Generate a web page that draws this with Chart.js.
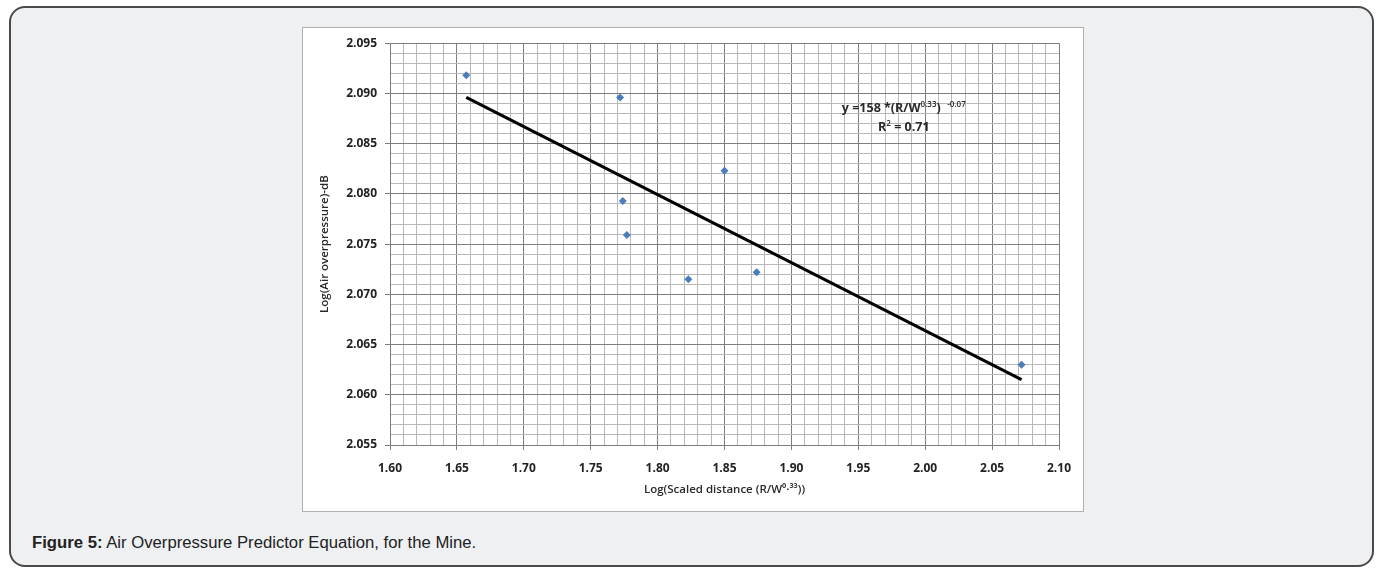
<!DOCTYPE html>
<html>
<head>
<meta charset="utf-8">
<script src="https://cdn.jsdelivr.net/npm/chart.js@4.4.0/dist/chart.umd.min.js"></script>
<style>
  body { margin: 0; background: #fff; width: 1380px; height: 569px; overflow: hidden; font-family: "Liberation Sans", Arial, sans-serif; }
  .card { position: absolute; left: 9px; top: 6px; width: 1361px; height: 557px; border: 2px solid #4a4a4a; border-radius: 16px; background: #eff0f2; }
  .chartbox { position: absolute; left: 302px; top: 27px; width: 780px; height: 483px; border: 1px solid #b0b0b0; background: #fff; }
  .caption { position: absolute; left: 32px; top: 533px; font-size: 16.7px; line-height: 19px; color: #222; }
</style>
</head>
<body>
<div class="card"></div>
<div class="chartbox"><canvas id="airChart"></canvas></div>
<div class="caption"><b>Figure 5:</b> Air Overpressure Predictor Equation, for the Mine.</div>
<script>
// measured points (log scaled distance vs log air overpressure)
var distLog = [1.657, 1.772, 1.774, 1.777, 1.823, 1.850, 1.874, 2.072];
var pressLog = [2.0918, 2.0896, 2.0793, 2.0759, 2.0715, 2.0823, 2.0722, 2.0630];

// fitted line ends as drawn in the figure
var trendX = [1.657, 2.072];
var trendY = [2.0896, 2.0615];

var xTickLabels = ["1.60", "1.65", "1.70", "1.75", "1.80", "1.85", "1.90", "1.95", "2.00", "2.05", "2.10"];
var yTickLabels = ["2.055", "2.060", "2.065", "2.070", "2.075", "2.080", "2.085", "2.090", "2.095"];

var tickFont = { family: "'Open Sans', sans-serif", size: 12, weight: "700" };
var majorGrid = "#7e7e7e";
var minorGrid = "#b8b8b8";

function isMajorX(v) { return xTickLabels.indexOf(v.toFixed(2)) >= 0; }
function isMajorY(v) { return yTickLabels.indexOf(v.toFixed(3)) >= 0; }

// equation text placed in data coordinates
var eqPlugin = {
    id: "equation",
    afterDatasetsDraw: function (chart) {
        var ctx = chart.ctx;
        var cx = chart.scales.x.getPixelForValue(1.984);
        var cy = chart.scales.y.getPixelForValue(2.0885);
        var lines = [
            [["y =158 *(R/W", 0], ["0.33", 1], [")  ", 0], ["-0.07", 1]],
            [["R", 0], ["2", 1], [" = 0.71", 0]]
        ];
        ctx.save();
        ctx.fillStyle = "#2a2a2a";
        ctx.textBaseline = "middle";
        ctx.textAlign = "left";
        lines.forEach(function (parts, i) {
            var w = 0;
            parts.forEach(function (p) {
                ctx.font = p[1] ? "600 8px 'Open Sans'" : "700 12.5px 'Open Sans'";
                w += ctx.measureText(p[0]).width;
            });
            var px = cx - w / 2;
            var py = cy + i * 19;
            parts.forEach(function (p) {
                ctx.font = p[1] ? "600 8px 'Open Sans'" : "700 12.5px 'Open Sans'";
                ctx.fillText(p[0], px, p[1] ? py - 4 : py);
                px += ctx.measureText(p[0]).width;
            });
        });
        ctx.restore();
    }
};

document.addEventListener("DOMContentLoaded", function () {
    var points = distLog.map(function (d, i) { return { x: d, y: pressLog[i] }; });
    var trend = trendX.map(function (d, i) { return { x: d, y: trendY[i] }; });

    new Chart(document.getElementById("airChart").getContext("2d"), {
        type: "scatter",
        data: {
            datasets: [{
                label: "Measured",
                data: points,
                pointStyle: "rectRot",
                pointRadius: 4,
                backgroundColor: "#4a7ebb",
                borderColor: "#4a7ebb",
                borderWidth: 0
            }, {
                label: "Fit",
                data: trend,
                showLine: true,
                borderColor: "#000",
                borderWidth: 3,
                pointRadius: 0
            }]
        },
        options: {
            responsive: true,
            maintainAspectRatio: false,
            animation: false,
            layout: { padding: { top: 15, right: 24, left: 0, bottom: 0 } },
            plugins: { legend: { display: false }, tooltip: { enabled: false } },
            scales: {
                x: {
                    type: "linear",
                    min: 1.6,
                    max: 2.1,
                    afterFit: function (scale) { scale.height = 66; },
                    ticks: {
                        stepSize: 0.01,
                        autoSkip: false,
                        maxTicksLimit: 100,
                        maxRotation: 0,
                        padding: 11,
                        color: "#222",
                        font: tickFont,
                        callback: function (v) { return isMajorX(v) ? v.toFixed(2) : ""; }
                    },
                    grid: {
                        color: function (c) { return c.tick && isMajorX(c.tick.value) ? majorGrid : minorGrid; },
                        tickColor: function (c) { return c.tick && isMajorX(c.tick.value) ? majorGrid : "rgba(0,0,0,0)"; },
                        tickLength: 5
                    },
                    border: { color: majorGrid },
                    title: {
                        display: true,
                        text: "Log(Scaled distance (R/W\u2070\u00b7\u00b3\u00b3))",
                        color: "#2a2a2a",
                        font: { family: "'Open Sans', sans-serif", size: 11.5, weight: "600" },
                        padding: { top: 0, bottom: 14 }
                    }
                },
                y: {
                    type: "linear",
                    min: 2.055,
                    max: 2.095,
                    afterFit: function (scale) { scale.width = 87; },
                    ticks: {
                        stepSize: 0.001,
                        autoSkip: false,
                        maxTicksLimit: 100,
                        padding: 8,
                        color: "#222",
                        font: tickFont,
                        callback: function (v) { return isMajorY(v) ? v.toFixed(3) : ""; }
                    },
                    grid: {
                        color: function (c) { return c.tick && isMajorY(c.tick.value) ? majorGrid : minorGrid; },
                        tickColor: function (c) { return c.tick && isMajorY(c.tick.value) ? majorGrid : "rgba(0,0,0,0)"; },
                        tickLength: 5
                    },
                    border: { color: majorGrid },
                    title: {
                        display: true,
                        text: "Log(Air overpressure)-dB",
                        color: "#2a2a2a",
                        font: { family: "'Open Sans', sans-serif", size: 11.5, weight: "600" },
                        padding: { top: 15, bottom: 0 }
                    }
                }
            }
        },
        plugins: [eqPlugin]
    });
});
</script>
</body>
</html>
